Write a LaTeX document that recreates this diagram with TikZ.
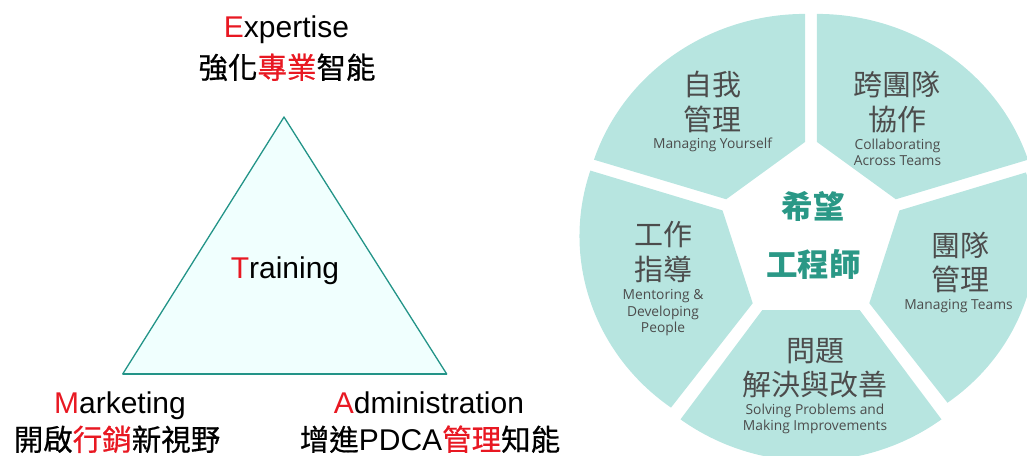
\documentclass[tikz,border=0pt]{standalone}
\usepackage{fontspec}
\setmainfont{Liberation Sans}
\newfontfamily\cjk{Noto Sans CJK TC}
\newfontfamily\cjkm[FakeBold=0.6]{Noto Sans CJK TC}
\newfontfamily\osans{Open Sans}
\definecolor{segfill}{RGB}{183,229,224}
\definecolor{tealtxt}{RGB}{42,152,134}
\definecolor{graytxt}{RGB}{76,76,76}
\definecolor{trifill}{RGB}{240,255,254}
\definecolor{triline}{RGB}{35,148,136}
\definecolor{redE}{RGB}{232,24,34}
\newcommand\myEn{\fontsize{30}{34}\selectfont}
\newcommand\myCL{\cjkm\fontsize{29.5}{32}\selectfont}
\newcommand\myCR{\cjk\fontsize{29}{32}\selectfont\color{graytxt}}
\newcommand\mySR{\osans\fontsize{13.8}{16}\selectfont\color{graytxt}}
\newcommand\myCC{\cjk\bfseries\fontsize{31.5}{34}\selectfont\color{tealtxt}}
\newcommand\rd[1]{\textcolor{redE}{#1}}
\begin{document}
\begin{tikzpicture}[x=1pt,y=1pt,
  seg/.style={fill=segfill},
  lbl/.style={inner sep=0pt, anchor=base},
  tri/.style={fill=trifill, draw=triline, line width=1.3pt, line join=round},
  tribase/.style={draw=triline, line width=2.6pt}]
\useasboundingbox (0,0) rectangle (1027,-455);
\clip (0,0) rectangle (1027,-455);

% ---------- triangle ----------
\coordinate (apex) at (284,-117);
\coordinate (bl) at (122.7,-374);
\coordinate (br) at (446.7,-374);
\filldraw[tri] (apex) -- (bl) -- (br) -- cycle;
\draw[tribase] (bl) -- (br);

\node[lbl, font=\myEn] (expE) at (286.5,-37) {\rd{E}xpertise};
\node[lbl, font=\myCL] (expC) at (287,-78.5) {強化\rd{專業}智能};
\node[lbl, font=\myEn] (train) at (285,-278) {\rd{T}raining};
\node[lbl, font=\myEn] (mkE) at (120,-413) {\rd{M}arketing};
\node[lbl, font=\myCL] (mkC) at (117,-450.5) {開啟\rd{行銷}新視野};
\node[lbl, font=\myEn] (adE) at (429,-413) {\rd{A}dministration};
\node[lbl, font=\myCL] (adC) at (430,-450.5) {增進{\rmfamily\fontsize{30}{32}\selectfont PDCA}\rd{管理}知能};

% ---------- wheel ----------
\coordinate (wc) at (811,-233);
\foreach \b/\rx/\ry in {126/222/211, 54/222/211, 198/222/212, 342/216/206, 270/222/218} {
  \fill[seg, shift={(wc)}, shift={(\b:10pt)}]
    (\b-36:83pt) -- (\b-36:\rx pt and \ry pt)
    arc[start angle=\b-36, end angle=\b+36, x radius=\rx pt, y radius=\ry pt]
    -- (\b+36:83pt) -- cycle;
}

% top-left segment
\node[lbl, font=\myCR] (s1a) at (712,-95.5) {自我};
\node[lbl, font=\myCR] (s1b) at (712,-130.5) {管理};
\node[lbl, font=\mySR] (s1c) at (712.5,-148.5) {Managing Yourself};
% top-right segment
\node[lbl, font=\myCR] (s2a) at (897,-95.5) {跨團隊};
\node[lbl, font=\myCR] (s2b) at (897,-130.5) {協作};
\node[lbl, font=\mySR] (s2c) at (897.5,-149) {Collaborating};
\node[lbl, font=\mySR] (s2d) at (897.5,-165) {Across Teams};
% left segment
\node[lbl, font=\myCR] (s3a) at (663,-245.5) {工作};
\node[lbl, font=\myCR] (s3b) at (663,-280.5) {指導};
\node[lbl, font=\mySR] (s3c) at (663,-299.5) {Mentoring \&};
\node[lbl, font=\mySR] (s3d) at (663,-316) {Developing};
\node[lbl, font=\mySR] (s3e) at (663,-332) {People};
% lower-right segment
\node[lbl, font=\myCR] (s4a) at (960,-256.5) {團隊};
\node[lbl, font=\myCR] (s4b) at (960,-290.5) {管理};
\node[lbl, font=\mySR] (s4c) at (958.5,-309) {Managing Teams};
% bottom segment
\node[lbl, font=\myCR] (s5a) at (815,-361.5) {問題};
\node[lbl, font=\myCR] (s5b) at (815,-395.5) {解決與改善};
\node[lbl, font=\mySR] (s5c) at (815,-414) {Solving Problems and};
\node[lbl, font=\mySR] (s5d) at (815,-430) {Making Improvements};
% centre
\node[lbl, font=\myCC] (c1) at (813,-218) {希望};
\node[lbl, font=\myCC] (c2) at (813.5,-276) {工程師};
\end{tikzpicture}
\end{document}
